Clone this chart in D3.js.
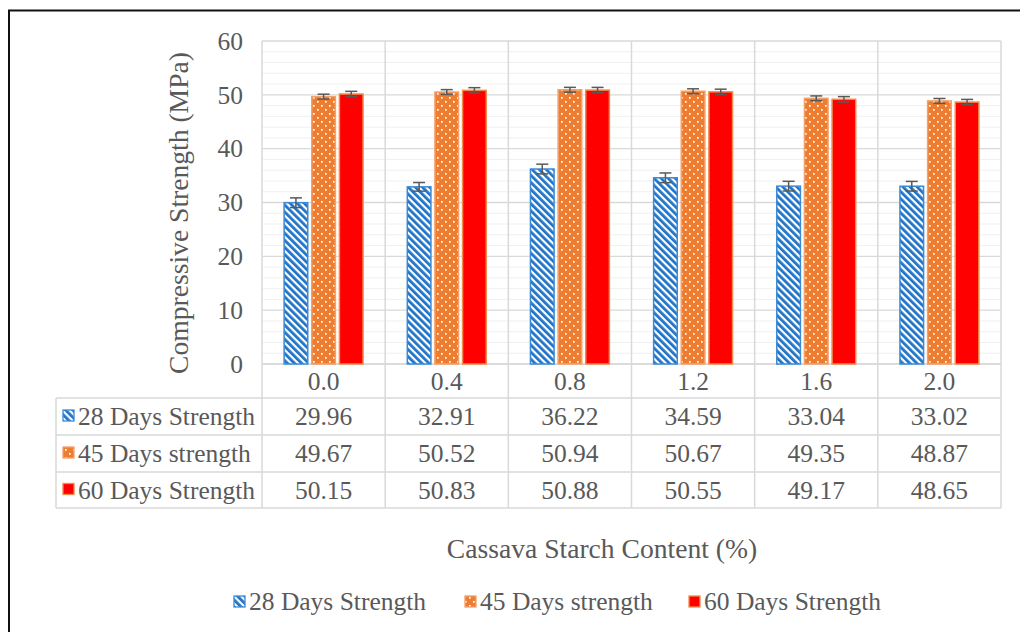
<!DOCTYPE html>
<html>
<head>
<meta charset="utf-8">
<script src="https://cdn.jsdelivr.net/npm/d3@7"></script>
<style>
  body { margin: 0; background: #fff; }
  svg text { font-family: "Liberation Serif", "Times New Roman", serif; }
</style>
</head>
<body>
<script>
// Compressive strength vs cassava starch content

const w = 1020; // Width of Space
const h = 632;  // Height of Space

// Data
const categories = ["0.0", "0.4", "0.8", "1.2", "1.6", "2.0"];
const seriesNames = ["28 Days Strength", "45 Days strength", "60 Days Strength"];
const days28 = [29.96, 32.91, 36.22, 34.59, 33.04, 33.02];
const days45 = [49.67, 50.52, 50.94, 50.67, 49.35, 48.87];
const days60 = [50.15, 50.83, 50.88, 50.55, 49.17, 48.65];
const err28 = [0.9, 0.8, 0.9, 0.9, 0.9, 0.9];
const err45 = [0.45, 0.45, 0.45, 0.45, 0.45, 0.45];
const err60 = [0.5, 0.5, 0.5, 0.5, 0.5, 0.5];
const yTicks = [0, 10, 20, 30, 40, 50, 60];

const seriesValues = [days28, days45, days60];
const seriesErrors = [err28, err45, err60];

// Layout
const plotLeft = 262, plotRight = 1001, plotTop = 41, plotBottom = 364;
const tableLeft = 56;
const rowLines = [364, 398, 435, 472, 508];
const textColor = "#595959";
const serif = "'Liberation Serif', 'Times New Roman', serif";
const fontSize = "25.5px";
const titleSize = "27.6px";

const svg = d3.select("body").append("svg")
    .attr("width", w)
    .attr("height", h);

// Patterns
const defs = svg.append("defs");
const stripes = defs.append("pattern")
    .attr("id", "stripes")
    .attr("patternUnits", "userSpaceOnUse")
    .attr("width", 5).attr("height", 5)
    .attr("patternTransform", "rotate(-45)");
stripes.append("rect").attr("width", 5).attr("height", 5).attr("fill", "#fff");
stripes.append("rect").attr("width", 2.8).attr("height", 5).attr("fill", "#1f74c8");

const dots = defs.append("pattern")
    .attr("id", "dots")
    .attr("patternUnits", "userSpaceOnUse")
    .attr("width", 8).attr("height", 8);
dots.append("rect").attr("width", 8).attr("height", 8).attr("fill", "#ed7d31");
dots.append("rect").attr("x", 1).attr("y", 1).attr("width", 1.7).attr("height", 1.7).attr("fill", "#fff");
dots.append("rect").attr("x", 5).attr("y", 5).attr("width", 1.7).attr("height", 1.7).attr("fill", "#fff");

const fills = ["url(#stripes)", "url(#dots)", "#ff0000"];
const strokes = ["#3b8ad6", "#f4a06a", "#f08a4a"];

// Frame
svg.append("path")
    .attr("d", `M9,${h + 5} V10.5 H${w + 5}`)
    .attr("fill", "none")
    .attr("stroke", "#111")
    .attr("stroke-width", 2);

// Scales
const xScale = d3.scaleBand()
    .domain(categories)
    .range([plotLeft, plotRight])
    .padding(0);

const xInner = d3.scaleBand()
    .domain(d3.range(3))
    .range([0, xScale.bandwidth()])
    .paddingInner(0.145)
    .paddingOuter(0.8);

const yScale = d3.scaleLinear()
    .domain([0, 60])
    .range([plotBottom, plotTop]);

// Minor gridlines
svg.append("g")
    .selectAll("line")
    .data(d3.range(2, 60, 2).filter(v => v % 10 !== 0))
    .enter().append("line")
    .attr("x1", plotLeft).attr("x2", plotRight)
    .attr("y1", d => yScale(d)).attr("y2", d => yScale(d))
    .attr("stroke", "#f0f0f0").attr("stroke-width", 1);

// Major gridlines
svg.append("g")
    .selectAll("line")
    .data(yTicks)
    .enter().append("line")
    .attr("x1", plotLeft).attr("x2", plotRight)
    .attr("y1", d => yScale(d)).attr("y2", d => yScale(d))
    .attr("stroke", "#d9d9d9").attr("stroke-width", 1.3);

// Vertical lines through plot and table
const vLines = categories.map(c => xScale(c)).concat([plotRight]);
svg.append("g")
    .selectAll("line")
    .data(vLines)
    .enter().append("line")
    .attr("x1", d => d).attr("x2", d => d)
    .attr("y1", plotTop).attr("y2", rowLines[4])
    .attr("stroke", "#d9d9d9").attr("stroke-width", 1.5);

// Table horizontal lines
svg.append("g")
    .selectAll("line")
    .data(rowLines)
    .enter().append("line")
    .attr("x1", (d, i) => i === 0 ? plotLeft : tableLeft)
    .attr("x2", plotRight)
    .attr("y1", d => d).attr("y2", d => d)
    .attr("stroke", "#d9d9d9").attr("stroke-width", 1.5);

svg.append("line")
    .attr("x1", tableLeft).attr("x2", tableLeft)
    .attr("y1", rowLines[1]).attr("y2", rowLines[4])
    .attr("stroke", "#d9d9d9").attr("stroke-width", 1.5);

// Bars
seriesValues.forEach((vals, s) => {
    const g = svg.append("g");
    g.selectAll("rect")
        .data(vals)
        .enter().append("rect")
        .attr("x", (d, i) => xScale(categories[i]) + xInner(s))
        .attr("y", d => yScale(d))
        .attr("width", xInner.bandwidth())
        .attr("height", d => plotBottom - yScale(d))
        .attr("fill", fills[s])
        .attr("stroke", strokes[s])
        .attr("stroke-width", 1.5);

    // Error bars
    const eg = svg.append("g").attr("stroke", "#595959").attr("stroke-width", 1.5);
    vals.forEach((d, i) => {
        const cx = xScale(categories[i]) + xInner(s) + xInner.bandwidth() / 2;
        const e = seriesErrors[s][i];
        eg.append("line").attr("x1", cx).attr("x2", cx)
            .attr("y1", yScale(d + e)).attr("y2", yScale(d - e));
        eg.append("line").attr("x1", cx - 6).attr("x2", cx + 6)
            .attr("y1", yScale(d + e)).attr("y2", yScale(d + e));
        eg.append("line").attr("x1", cx - 6).attr("x2", cx + 6)
            .attr("y1", yScale(d - e)).attr("y2", yScale(d - e));
    });
});

// Left axis labels
const leftAxis = d3.axisLeft(yScale).tickValues(yTicks).tickSize(0).tickPadding(19);
const ax = svg.append("g")
    .attr("transform", "translate(" + plotLeft + ",0)")
    .call(leftAxis)
    .attr("font-family", null)
    .attr("font-size", null);
ax.select(".domain").remove();
ax.selectAll("text")
    .attr("fill", textColor)
    .style("font-family", serif)
    .style("font-size", fontSize);

// Category row
svg.append("g")
    .selectAll("text")
    .data(categories)
    .enter().append("text")
    .attr("x", d => xScale(d) + xScale.bandwidth() / 2)
    .attr("y", (rowLines[0] + rowLines[1]) / 2 + 8.5)
    .attr("text-anchor", "middle")
    .attr("fill", textColor)
    .style("font-family", serif)
    .style("font-size", fontSize)
    .text(d => d);

// Table rows
seriesValues.forEach((vals, s) => {
    const yMid = (rowLines[s + 1] + rowLines[s + 2]) / 2;
    svg.append("rect")
        .attr("x", 63).attr("y", yMid - 6.5)
        .attr("width", 11).attr("height", 11)
        .attr("fill", fills[s]).attr("stroke", strokes[s]).attr("stroke-width", 1.3);
    svg.append("text")
        .attr("x", 78).attr("y", yMid + 8.5)
        .attr("fill", textColor)
        .style("font-family", serif)
        .style("font-size", fontSize)
        .text(seriesNames[s]);
    svg.append("g")
        .selectAll("text")
        .data(vals)
        .enter().append("text")
        .attr("x", (d, i) => xScale(categories[i]) + xScale.bandwidth() / 2)
        .attr("y", yMid + 8.5)
        .attr("text-anchor", "middle")
        .attr("fill", textColor)
        .style("font-family", serif)
        .style("font-size", fontSize)
        .text(d => d.toFixed(2));
});

// Y - Axis Title
svg.append("text")
    .attr("transform", "rotate(-90)")
    .attr("x", -213)
    .attr("y", 188)
    .attr("text-anchor", "middle")
    .attr("fill", textColor)
    .style("font-family", serif)
    .style("font-size", titleSize)
    .text("Compressive Strength (MPa)");

// X - Axis Title
svg.append("text")
    .attr("x", 602)
    .attr("y", 558)
    .attr("text-anchor", "middle")
    .attr("fill", textColor)
    .style("font-family", serif)
    .style("font-size", titleSize)
    .text("Cassava Starch Content (%)");

// Legend
const legendX = [234, 465, 689];
seriesNames.forEach((name, s) => {
    svg.append("rect")
        .attr("x", legendX[s]).attr("y", 596)
        .attr("width", 11).attr("height", 11)
        .attr("fill", fills[s]).attr("stroke", strokes[s]).attr("stroke-width", 1.3);
    svg.append("text")
        .attr("x", legendX[s] + 15).attr("y", 610)
        .attr("fill", textColor)
        .style("font-family", serif)
        .style("font-size", fontSize)
        .text(name);
});
</script>
</body>
</html>
